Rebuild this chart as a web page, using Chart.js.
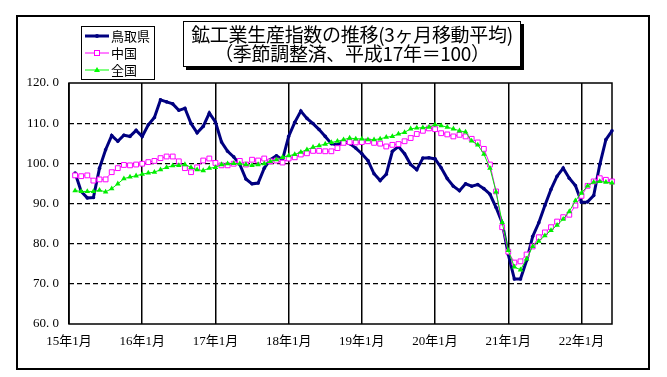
<!DOCTYPE html>
<html><head><meta charset="utf-8">
<script src="https://cdn.jsdelivr.net/npm/chart.js@4/dist/chart.umd.min.js"></script>
<style>
html,body{margin:0;padding:0;background:#fff;}
#wrap{position:relative;width:667px;height:377px;overflow:hidden;background:#fff;}
#c{position:absolute;left:0;top:0;}
#frame{position:absolute;left:16px;top:15px;width:630px;height:351px;border:2px solid #000;pointer-events:none;}
#title{position:absolute;left:183px;top:21px;width:336px;height:42px;border:1.5px solid #000;background:#fff;box-shadow:3px 3px 0 #000;font-family:"Noto Sans CJK JP","Noto Sans",sans-serif;font-size:19px;line-height:19px;text-align:center;padding-top:2px;box-sizing:content-box;color:#000;letter-spacing:-0.3px;}
#legend{position:absolute;left:81px;top:26px;width:72px;height:52px;border:1px solid #000;background:#fff;font-family:"Noto Sans CJK JP","Noto Sans",sans-serif;font-size:13px;color:#000;}
.row{position:absolute;left:2px;height:18px;line-height:18px;white-space:nowrap;}
.row svg{position:absolute;left:0;top:0;}
.row span{position:absolute;left:27px;top:0;}
</style></head>
<body>
<div id="wrap">
<canvas id="c" width="667" height="377"></canvas>
<div id="frame"></div>
<div id="title">鉱工業生産指数の推移(3ヶ月移動平均)<br>（季節調整済、平成17年＝100）</div>
<div id="legend">
  <div class="row" style="top:0px"><svg width="26" height="18"><line x1="1" y1="9" x2="25" y2="9" stroke="#000080" stroke-width="3"/><circle cx="13" cy="9" r="2" fill="#000080"/></svg><span>鳥取県</span></div>
  <div class="row" style="top:17px"><svg width="26" height="18"><line x1="1" y1="9" x2="25" y2="9" stroke="#FF00FF" stroke-width="1"/><rect x="10.5" y="6.5" width="5" height="5" fill="#fff" stroke="#FF00FF" stroke-width="1"/></svg><span>中国</span></div>
  <div class="row" style="top:34px"><svg width="26" height="18"><line x1="1" y1="9" x2="25" y2="9" stroke="#00FF00" stroke-width="1"/><polygon points="13,6 16,11 10,11" fill="#00FF00"/></svg><span>全国</span></div>
</div>
</div>
<script>
// categories: months 15年1月 .. 22年6月
const years = [15, 16, 17, 18, 19, 20, 21, 22];
const months = [1,2,3,4,5,6,7,8,9,10,11,12];
const categories = [];
for (const y of years) for (const m of months) { if (y === 22 && m > 6) break; categories.push(y + '年' + m + '月'); }

const seriesNames = ['鳥取県', '中国', '全国'];

const tottori = [null,
 97.6, 93.0, 91.4, 91.5, 98.8, 103.4, 106.9, 105.5, 107.0, 106.7, 108.2,
 106.7, 109.6, 111.4, 115.8, 115.3, 114.8, 113.2, 113.7, 109.9, 107.6, 109.2, 112.5,
 110.3, 105.3, 103.0, 101.6, 99.7, 96.1, 94.9, 95.1, 98.8, 100.9, 101.9, 100.9,
 106.7, 110.2, 113.0, 111.2, 109.9, 108.4, 106.7, 104.9, 104.6, 105.5, 104.9, 103.8,
 102.4, 100.7, 97.4, 95.7, 97.3, 103.0, 104.2, 102.4, 99.7, 98.4, 101.3, 101.4,
 101.1, 98.9, 96.2, 94.3, 93.2, 94.9, 94.3, 94.7, 93.7, 92.3, 89.0, 85.2,
 77.3, 71.2, 71.2, 75.8, 81.8, 85.2, 89.5, 93.5, 96.8, 98.8, 96.3, 94.5,
 90.3, 90.4, 92.0, 99.7, 105.9, 108.1];

const chugoku = [null,
 97.0, 96.8, 97.0, 95.7, 96.0, 96.0, 97.8, 98.8, 99.6, 99.5, 99.7,
 99.9, 100.3, 100.6, 101.3, 101.7, 101.7, 100.5, 98.8, 97.8, 99.0, 100.7, 101.2,
 100.1, 99.5, 99.5, 99.9, 100.6, 99.7, 100.9, 100.7, 101.2, 100.5, 100.7, 100.2,
 101.2, 101.5, 102.2, 102.5, 103.1, 103.1, 103.0, 103.0, 103.8, 105.1, 105.3, 105.2,
 105.3, 105.5, 105.1, 104.9, 104.2, 104.6, 104.8, 105.5, 106.3, 107.3, 108.1, 108.7,
 108.5, 107.5, 107.2, 106.7, 107.1, 106.7, 106.1, 105.2, 103.6, 99.7, 93.0, 84.1,
 78.0, 75.3, 75.6, 77.3, 79.3, 81.6, 82.8, 84.1, 85.5, 86.6, 87.2, 89.5,
 91.9, 94.4, 95.5, 96.3, 95.9, 95.5];

const zenkoku = [null,
 93.2, 93.0, 93.0, 93.0, 93.3, 92.9, 93.7, 94.9, 96.2, 96.6, 96.9,
 97.3, 97.6, 97.8, 98.4, 99.0, 99.4, 99.5, 99.7, 99.0, 98.4, 98.2, 98.8,
 99.0, 99.7, 99.9, 100.0, 99.9, 99.7, 99.5, 99.7, 99.9, 100.5, 100.9, 101.5,
 101.9, 102.2, 102.8, 103.4, 104.0, 104.4, 104.8, 105.2, 105.5, 105.9, 106.3, 106.1,
 106.1, 105.9, 105.9, 106.1, 106.5, 106.7, 107.3, 107.7, 108.6, 108.8, 108.9, 109.0,
 109.6, 109.4, 109.0, 108.6, 108.1, 107.8, 105.6, 104.6, 102.3, 98.8, 92.9, 85.3,
 78.3, 74.2, 73.5, 76.2, 79.3, 80.6, 82.0, 83.3, 84.6, 86.1, 88.0, 90.7,
 92.6, 94.4, 95.3, 95.5, 95.3, 95.1];

const yTicks = [60, 70, 80, 90, 100, 110, 120];

const areaBorder = {
  id: 'areaBorder',
  beforeDatasetsDraw(chart) {
    const { ctx, chartArea: a } = chart;
    ctx.save();
    ctx.strokeStyle = '#000';
    ctx.lineWidth = 1.5;
    ctx.setLineDash([]);
    ctx.strokeRect(a.left, a.top, a.right - a.left, a.bottom - a.top);
    ctx.restore();
  }
};

const axisFont = { family: '"Liberation Serif", "Noto Sans CJK JP", serif', size: 13 };

new Chart(document.getElementById('c'), {
  type: 'line',
  data: {
    labels: categories,
    datasets: [
      { label: seriesNames[0], data: tottori, borderColor: '#000080', backgroundColor: '#000080', borderWidth: 3,
        pointStyle: 'circle', pointRadius: 1.8, pointBorderWidth: 0, pointBackgroundColor: '#000080', tension: 0, order: 3 },
      { label: seriesNames[1], data: chugoku, borderColor: '#FF00FF', backgroundColor: '#FFFFFF', borderWidth: 1,
        pointStyle: 'rect', pointRadius: 3.4, pointBorderWidth: 1, pointBorderColor: '#FF00FF', pointBackgroundColor: '#FFFFFF', tension: 0, order: 2 },
      { label: seriesNames[2], data: zenkoku, borderColor: '#00EE00', backgroundColor: '#00FF00', borderWidth: 1,
        pointStyle: 'triangle', pointRadius: 3.2, pointBorderWidth: 0, pointBackgroundColor: '#00EE00', tension: 0, order: 1 }
    ]
  },
  options: {
    responsive: false,
    animation: false,
    layout: { padding: { left: 0, right: 55, top: 83, bottom: 0 } },
    plugins: { legend: { display: false }, tooltip: { enabled: false }, title: { display: false } },
    scales: {
      x: {
        type: 'category',
        offset: false,
        afterFit(s) { s.height = 53; },
        border: { display: false },
        grid: {
          drawTicks: false,
          lineWidth: 1.5,
          color: ctx => (ctx.index % 12 === 0 ? '#000' : 'rgba(0,0,0,0)')
        },
        ticks: {
          autoSkip: false, maxRotation: 0, minRotation: 0, padding: 10,
          color: '#000', font: axisFont,
          callback: function (v, i) { return i % 12 === 0 ? categories[i] : ''; }
        }
      },
      y: {
        min: 60, max: 120,
        afterFit(s) { s.width = 69; },
        afterBuildTicks(s) { s.ticks = yTicks.map(v => ({ value: v })); },
        border: { display: false, dash: [5, 3] },
        grid: {
          drawTicks: false,
          lineWidth: 1.2,
          color: ctx => (ctx.tick && (ctx.tick.value === 60 || ctx.tick.value === 120) ? 'rgba(0,0,0,0)' : '#000')
        },
        ticks: {
          padding: 10, color: '#000', font: axisFont,
          callback: v => v.toFixed(1).replace('.', '. ')
        }
      }
    }
  },
  plugins: [areaBorder]
});
</script>
</body></html>
